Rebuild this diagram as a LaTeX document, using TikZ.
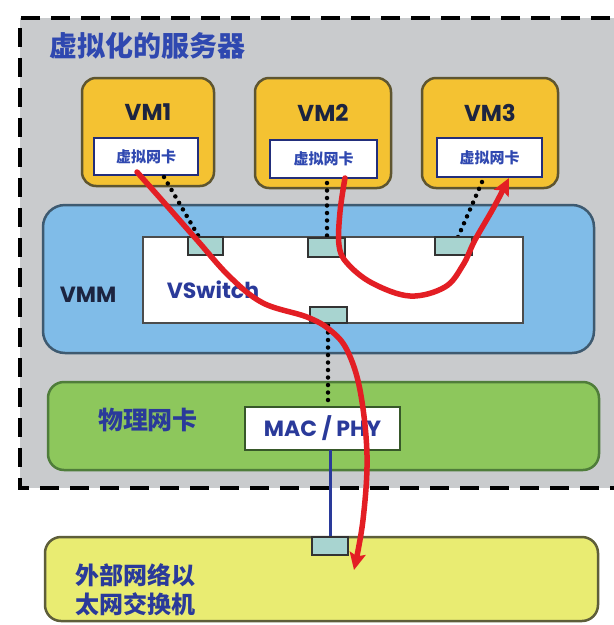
\documentclass[tikz,border=0pt]{standalone}
\usepackage{fontspec}
\setmainfont{Poppins}
\newfontfamily\cjk{Noto Sans CJK SC}
\usetikzlibrary{arrows.meta}

\definecolor{srvgray}{HTML}{C9CBCD}
\definecolor{vmfill}{HTML}{F4C232}
\definecolor{vmedge}{HTML}{5E5530}
\definecolor{vmmfill}{HTML}{80BCE8}
\definecolor{vmmedge}{HTML}{3E5A70}
\definecolor{nicfill}{HTML}{8DC75C}
\definecolor{nicedge}{HTML}{4F7D3A}
\definecolor{extfill}{HTML}{E9EC72}
\definecolor{extedge}{HTML}{5E5E3A}
\definecolor{portfill}{HTML}{A8D4D0}
\definecolor{txtblue}{HTML}{2F48B0}
\definecolor{navy}{HTML}{1C2440}
\definecolor{flowred}{HTML}{E31E24}
\definecolor{linkblue}{HTML}{2A3A9A}

\tikzset{
  vmbox/.style={draw=vmedge, line width=2.5pt, fill=vmfill, rounded corners=14pt},
  cardbox/.style={draw=linkblue!80!black, line width=2pt, fill=white, inner sep=0pt},
  cardtext/.style={font=\cjk\bfseries\fontsize{15}{16}\selectfont, text=txtblue},
  vmlabel/.style={font=\bfseries\fontsize{23}{24}\selectfont, text=navy},
  portbox/.style={draw=black!80, line width=1.8pt, fill=portfill},
  dotline/.style={line width=4.5pt, line cap=round, dash pattern=on 0pt off 7.5pt, draw=black},
  flow/.style={draw=flowred, line width=5.5pt, line cap=round,
               -{Stealth[length=17pt,width=16pt,inset=3pt]}},
}

\begin{document}
\begin{tikzpicture}[x=1pt,y=-1pt]
\useasboundingbox (0,0) rectangle (614,625);
\fill[white] (0,0) rectangle (614,625);

% virtualised server enclosure
\begin{scope}
  \clip (0,0) rectangle (614,625);
  \fill[srvgray] (20,18) rectangle (640,488);
  \draw[black, line width=4.5pt, dash pattern=on 19pt off 11pt] (640,18) -- (20,18) -- (20,488) -- (640,488);
\end{scope}
\node[anchor=west, font=\cjk\bfseries\fontsize{28}{30}\selectfont, text=txtblue] (title) at (46,46) {虚拟化的服务器};

% virtual machines
\draw[vmbox] (82,78) rectangle (214,186);
\draw[vmbox] (255,78) rectangle (391,188);
\draw[vmbox] (422,78) rectangle (558,188);
\node[vmlabel] (vm1) at (148,112) {VM1};
\node[vmlabel] (vm2) at (323,113) {VM2};
\node[vmlabel] (vm3) at (490,113) {VM3};
\node[cardbox, minimum width=104pt, minimum height=37pt] (vc1) at (146,156.5) {};
\node[cardbox, minimum width=107pt, minimum height=38pt] (vc2) at (323.5,159) {};
\node[cardbox, minimum width=105pt, minimum height=39pt] (vc3) at (489.5,157.5) {};
\node[cardtext] at (vc1) {虚拟网卡};
\node[cardtext] at (vc2) {虚拟网卡};
\node[cardtext] at (vc3) {虚拟网卡};

% hypervisor with the virtual switch
\draw[draw=vmmedge, line width=2.5pt, fill=vmmfill, rounded corners=22pt] (43,205) rectangle (594,353);
\node[font=\bfseries\fontsize{22}{24}\selectfont, text=navy] (vmm) at (88,295) {VMM};
\draw[draw=black!70, line width=2.5pt, fill=white] (143,237) rectangle (523,323);
\node[font=\bfseries\fontsize{22}{24}\selectfont, text=linkblue] (vsw) at (213,290) {VSwitch};

% physical NIC
\draw[draw=nicedge, line width=2.5pt, fill=nicfill, rounded corners=16pt] (48,382) rectangle (599,470);
\node[font=\cjk\bfseries\fontsize{25}{27}\selectfont, text=linkblue] (pnic) at (148,420) {物理网卡};
\node[draw=nicedge!70!black, line width=2.5pt, fill=white, minimum width=155pt, minimum height=43pt, inner sep=0pt] (mac) at (322.5,428.5) {};
\node[font=\bfseries\fontsize{22}{24}\selectfont, text=linkblue] at (mac) {MAC / PHY};

% external ethernet switch
\draw[draw=extedge, line width=2.5pt, fill=extfill, rounded corners=16pt] (45,537) rectangle (598,621);
\node[anchor=west, font=\cjk\bfseries\fontsize{24}{26}\selectfont, text=linkblue] (ext1) at (72,575) {外部网络以};
\node[anchor=west, font=\cjk\bfseries\fontsize{24}{26}\selectfont, text=linkblue] (ext2) at (72,604) {太网交换机};

% logical links from the virtual NICs to the switch ports
\coordinate (p1top) at (199,237);
\coordinate (p2top) at (327,238);
\coordinate (p3top) at (458,237);
\draw[dotline] (164,177) -- (p1top);
\draw[dotline] (327,183) -- (p2top);
\draw[dotline] (482,182) -- (p3top);
\draw[dotline] (328,325) -- (328,405);

% physical uplink
\node[portbox, minimum width=36pt, minimum height=18pt, inner sep=0pt] (extport) at (330,546) {};
\draw[linkblue, line width=3pt] (330,450) -- (extport.north);

% switch ports
\node[portbox, minimum width=35pt, minimum height=18pt, inner sep=0pt] (port1) at (205.5,246) {};
\node[portbox, minimum width=37pt, minimum height=19pt, inner sep=0pt] (port2) at (326.5,247.5) {};
\node[portbox, minimum width=37pt, minimum height=18pt, inner sep=0pt] (port3) at (453.5,246) {};
\node[portbox, minimum width=37pt, minimum height=16pt, inner sep=0pt] (uplink) at (328.5,315) {};

% traffic paths
\coordinate (tip1) at (354,570);
\coordinate (tip2) at (509,178);
\draw[flow] plot[smooth, tension=0.6] coordinates {(137,172) (168,207) (197,240) (230,277) (263,303) (307,317) (330,330) (347,350) (360,390) (367,455) (363,520) (tip1)};
\draw[flow] plot[smooth, tension=0.6] coordinates {(345,178) (340,212) (339,245) (347,263) (372,283) (410,296) (445,287) (463,265) (475,240) (494,207) (tip2)};
\end{tikzpicture}
\end{document}
